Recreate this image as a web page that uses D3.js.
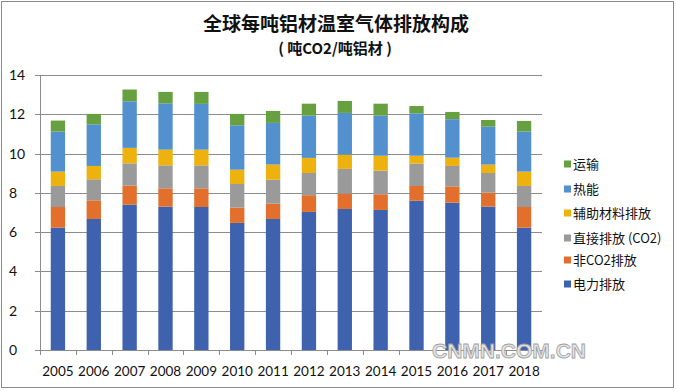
<!DOCTYPE html>
<html><head><meta charset="utf-8">
<script src="https://cdn.jsdelivr.net/npm/d3@7"></script>
<style>
html,body{margin:0;padding:0;background:#fff;}
svg{display:block;}
</style></head>
<body>
<svg id="chart" width="676" height="391"></svg>
<script>
const years = ["2005","2006","2007","2008","2009","2010","2011","2012","2013","2014","2015","2016","2017","2018"];
const electricity = [6.23,6.67,7.40,7.30,7.28,6.47,6.67,7.03,7.18,7.13,7.60,7.50,7.30,6.23];
const nonCO2      = [1.05,0.95,0.97,0.93,0.95,0.78,0.78,0.85,0.78,0.80,0.75,0.83,0.71,1.05];
const directCO2   = [1.07,1.07,1.13,1.17,1.17,1.20,1.22,1.13,1.26,1.20,1.14,1.04,1.00,1.07];
const auxMaterial = [0.73,0.68,0.79,0.80,0.80,0.73,0.77,0.77,0.73,0.76,0.40,0.42,0.43,0.73];
const heat        = [2.04,2.12,2.37,2.36,2.33,2.26,2.12,2.15,2.12,2.04,2.16,1.96,1.93,2.04];
const transport   = [0.56,0.53,0.60,0.58,0.61,0.58,0.61,0.61,0.61,0.61,0.37,0.37,0.34,0.54];
const seriesNames = ["电力排放","非CO2排放","直接排放 (CO2)","辅助材料排放","热能","运输"];
const yTicks = [0,2,4,6,8,10,12,14];
const title = "全球每吨铝材温室气体排放构成";
const subtitle = "( 吨CO2/吨铝材 )";

(function(){
const seriesData = [electricity, nonCO2, directCO2, auxMaterial, heat, transport];
const colors = ["#3E62AE","#E2702C","#9A9A9A","#EDB20E","#5290CE","#66A040"];

const svg = d3.select("#chart");
svg.append("rect").attr("x",1.5).attr("y",1.5).attr("width",672).attr("height",386)
  .attr("fill","#fff").attr("stroke","#8a8a8a").attr("stroke-width",1);

const pLeft = 40, pRight = 542, pTop = 75, pBottom = 350;
const x = d3.scaleBand().domain(years).range([pLeft,pRight]).paddingInner(0.6).paddingOuter(0.3);
const y = d3.scaleLinear().domain([0,14]).range([pBottom,pTop]);

const table = years.map((yr,i)=>{
  const o = {year: yr};
  seriesNames.forEach((n,k)=>{ o[n] = seriesData[k][i]; });
  return o;
});
const stacked = d3.stack().keys(seriesNames)(table);

svg.append("g").selectAll("line").data(yTicks.filter(t=>t>0)).join("line")
  .attr("x1",pLeft).attr("x2",pRight)
  .attr("y1",d=>Math.round(y(d))+0.5).attr("y2",d=>Math.round(y(d))+0.5)
  .attr("stroke","#8c8c8c").attr("stroke-width",1);

svg.append("g").selectAll("g").data(stacked).join("g")
  .attr("fill",(d,i)=>colors[i])
  .selectAll("rect").data(d=>d).join("rect")
  .attr("x",d=>x(d.data.year))
  .attr("width",x.bandwidth())
  .attr("y",d=>y(d[1]))
  .attr("height",d=>y(d[0])-y(d[1]));

const axisColor = "#8c8c8c";
svg.append("line").attr("x1",pLeft+0.5).attr("x2",pLeft+0.5).attr("y1",pTop).attr("y2",pBottom+5)
  .attr("stroke",axisColor);
svg.append("g").selectAll("line").data(yTicks).join("line")
  .attr("x1",pLeft-5).attr("x2",pLeft)
  .attr("y1",d=>Math.round(y(d))+0.5).attr("y2",d=>Math.round(y(d))+0.5)
  .attr("stroke",axisColor);
svg.append("line").attr("x1",pLeft).attr("x2",pRight).attr("y1",pBottom+0.5).attr("y2",pBottom+0.5)
  .attr("stroke",axisColor);
const bounds = d3.range(years.length+1).map(i=>pLeft + i*(pRight-pLeft)/years.length);
svg.append("g").selectAll("line").data(bounds).join("line")
  .attr("x1",d=>Math.round(d)+0.5).attr("x2",d=>Math.round(d)+0.5)
  .attr("y1",pBottom).attr("y2",pBottom+5).attr("stroke",axisColor);

svg.append("g").selectAll("text").data(yTicks).join("text")
  .attr("x",9).attr("y",d=>y(d)).attr("dy","0.36em")
  .attr("font-family","Lato, 'Open Sans', sans-serif").attr("font-size",14)
  .attr("fill","#111").text(d=>d);

svg.append("g").selectAll("text").data(years).join("text")
  .attr("x",d=>x(d)+x.bandwidth()/2).attr("y",376)
  .attr("text-anchor","middle")
  .attr("font-family","Lato, 'Open Sans', sans-serif").attr("font-size",13.5)
  .attr("fill","#111").text(d=>d);

svg.append("text").attr("x",336).attr("y",31).attr("text-anchor","middle")
  .attr("font-family","'Noto Sans CJK SC', sans-serif").attr("font-weight","bold")
  .attr("font-size",19).attr("fill","#111").text(title);
svg.append("text").attr("x",335).attr("y",54).attr("text-anchor","middle")
  .attr("font-family","'Noto Sans CJK SC', sans-serif").attr("font-weight","bold")
  .attr("font-size",15).attr("fill","#111").text(subtitle);

const legendY = [164,189,213,238,260,284];
const legendOrder = seriesNames.map((n,i)=>({n, c: colors[i]})).reverse();
const lg = svg.append("g").selectAll("g").data(legendOrder).join("g")
  .attr("transform",(d,i)=>`translate(564,${legendY[i]})`);
lg.append("rect").attr("x",0).attr("y",-3.5).attr("width",7).attr("height",7).attr("fill",d=>d.c);
lg.append("text").attr("x",9).attr("y",0).attr("dy","0.35em")
  .attr("font-family","'Noto Sans CJK SC', sans-serif").attr("font-size",13)
  .attr("fill","#111").text(d=>d.n);

svg.append("text").attr("x",432).attr("y",358)
  .attr("font-family","'Liberation Sans', Arial, sans-serif").attr("font-weight","bold")
  .attr("font-size",21).attr("fill","#e4e4e4").attr("stroke","#a0a0a0").attr("stroke-width",0.8)
  .text("CNMN.COM.CN");
})();
</script>
</body></html>
